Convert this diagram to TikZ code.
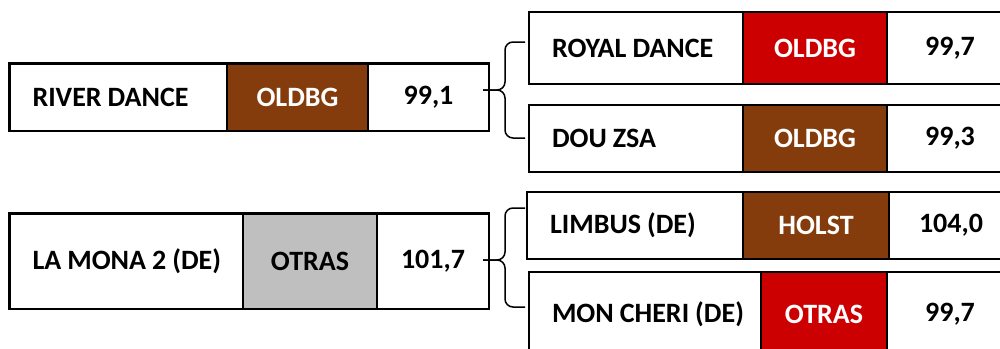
\documentclass[tikz,border=0pt]{standalone}
\usepackage{fontspec}
\setmainfont{Carlito}
\definecolor{brownc}{HTML}{843C0C}
\definecolor{redc}{HTML}{CC0000}
\definecolor{greyc}{HTML}{BFBFBF}
\newcommand{\cellfontsel}{\fontsize{28}{32}\selectfont\bfseries}
\tikzset{
  cell/.style={draw=black, line width=2.5pt, inner sep=0pt, outer sep=0pt, anchor=north west,
    font=\cellfontsel},
  namecell/.style={cell, fill=white, align=left, inner xsep=23pt},
  tagcell/.style={cell, text=white},
  numcell/.style={cell, fill=white, text=black},
  bracepath/.style={draw=black, line width=1.5pt, rounded corners=8pt},
}
\begin{document}
\begin{tikzpicture}[x=1pt,y=-1pt]
\useasboundingbox (0,0) rectangle (1000,348);
\clip (0,0) rectangle (1000,348);
% Row A
\node[namecell, text width=171.5pt, minimum height=67.5pt] (a1) at (9.5,63.5) {\mbox{\spaceskip=6pt RIVER DANCE}};
\node[tagcell, fill=brownc, minimum width=141pt, minimum height=67.5pt] (a2) at (a1.north east) {OLDBG};
\node[numcell, minimum width=121pt, minimum height=67.5pt] (a3) at (a2.north east) {99,1};
% Row B
\node[namecell, text width=168pt, minimum height=72pt] (b1) at (529,12) {\mbox{\spaceskip=6pt ROYAL DANCE}};
\node[tagcell, fill=redc, minimum width=144pt, minimum height=72pt] (b2) at (b1.north east) {OLDBG};
\node[numcell, minimum width=126pt, minimum height=72pt] (b3) at (b2.north east) {99,7};
% Row C
\node[namecell, text width=168pt, minimum height=67pt] (c1) at (529,105) {\mbox{\spaceskip=6pt DOU ZSA}};
\node[tagcell, fill=brownc, minimum width=144pt, minimum height=67pt] (c2) at (c1.north east) {OLDBG};
\node[numcell, minimum width=126pt, minimum height=67pt] (c3) at (c2.north east) {99,3};
% Row D
\node[namecell, text width=187.5pt, minimum height=95.5pt] (d1) at (9.5,213.5) {\mbox{\spaceskip=6pt LA MONA 2 (DE)}};
\node[tagcell, fill=greyc, text=black, minimum width=134pt, minimum height=95.5pt] (d2) at (d1.north east) {OTRAS};
\node[numcell, minimum width=112pt, minimum height=95.5pt] (d3) at (d2.north east) {101,7};
% Row E
\node[namecell, text width=170pt, minimum height=67pt] (e1) at (527,192) {\mbox{\spaceskip=6pt LIMBUS (DE)}};
\node[tagcell, fill=brownc, minimum width=146pt, minimum height=67pt] (e2) at (e1.north east) {HOLST};
\node[numcell, minimum width=124pt, minimum height=67pt] (e3) at (e2.north east) {104,0};
% Row F
\node[namecell, text width=186pt, minimum height=85pt] (f1) at (529,272) {\mbox{\spaceskip=6pt MON CHERI (DE)}};
\node[tagcell, fill=redc, minimum width=126pt, minimum height=85pt] (f2) at (f1.north east) {OTRAS};
\node[numcell, minimum width=126pt, minimum height=85pt] (f3) at (f2.north east) {99,7};
% Braces
\coordinate (t1) at (483,90);
\coordinate (u1) at (525,42);
\coordinate (l1) at (525,138);
\draw[bracepath] (u1) -- (505,42) -- (505,90) -- (t1);
\draw[bracepath] (l1) -- (505,138) -- (505,90) -- (t1);
\coordinate (t2) at (483,260);
\coordinate (u2) at (525,208);
\coordinate (l2) at (525,307);
\draw[bracepath] (u2) -- (505,208) -- (505,260) -- (t2);
\draw[bracepath] (l2) -- (505,307) -- (505,260) -- (t2);
\end{tikzpicture}
\end{document}
